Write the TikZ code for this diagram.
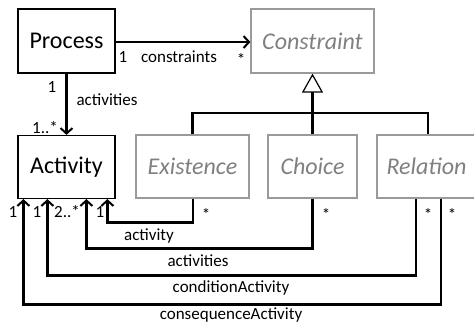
\documentclass[tikz,border=0pt]{standalone}
\usepackage{fontspec}
\setmainfont{Carlito}
\usetikzlibrary{arrows.meta}
\definecolor{absgray}{HTML}{808080}
\definecolor{absborder}{HTML}{9A9A9A}
\begin{document}
\begin{tikzpicture}[x=1pt,y=-1pt,
  classbox/.style={draw=black,line width=1.2pt,fill=white,inner sep=0pt,
    font=\fontsize{24}{28}\selectfont},
  abstractbox/.style={draw=absborder,line width=1.2pt,fill=white,inner sep=0pt,
    text=absgray,font=\fontsize{24}{28}\selectfont\itshape},
  assoc/.style={line width=2.4pt,-{Straight Barb[length=5.5pt,width=12pt,line width=2pt]}},
  link/.style={line width=2.4pt},
  gen/.style={line width=2.4pt,-{Triangle[open,length=19pt,width=21pt,line width=1.2pt]}},
  lbl/.style={font=\fontsize{17}{20}\selectfont,inner sep=0pt},
  mult/.style={font=\fontsize{17}{20}\selectfont,inner sep=0pt}]
\useasboundingbox (0,0) rectangle (474,327);

% classes
\node[classbox,minimum width=97pt,minimum height=64pt] (process) at (66.5,41) {Process};
\node[classbox,minimum width=97pt,minimum height=63pt] (activity) at (66.5,167) {Activity};
\node[abstractbox,minimum width=123pt,minimum height=64pt] (constraint) at (312.5,41) {Constraint};
\node[abstractbox,minimum width=113pt,minimum height=63pt] (existence) at (192.5,166.5) {Existence};
\node[abstractbox,minimum width=89pt,minimum height=63pt] (choice) at (312.5,166.5) {Choice};
\node[abstractbox,minimum width=99pt,minimum height=63pt] (relation) at (426.5,166.5) {Relation};

% generalization
\coordinate (junction) at (312.5,113);
\draw[link] (existence.north) |- (junction) -| ([xshift=1.5pt]relation.north);
\draw[gen] (choice.north) -- (junction) -- (constraint.south);

% Process associations
\draw[assoc] (process.east |- 0,42) -- (constraint.west |- 0,42);
\node[mult] (pc1) at (123,57) {1};
\node[lbl] (pclbl) at (179,57) {constraints};
\node[mult] (pcstar) at (241,59) {*};
\draw[assoc] (process.south) -- (activity.north);
\node[mult] (pa1) at (52,87) {1};
\node[lbl] (palbl) at (107,100) {activities};
\node[mult] (pamany) at (45,128) {1..*};

% associations towards Activity
\draw[assoc] ([xshift=14.5pt]relation.south) -- ++(0,106) -| ([xshift=6pt]activity.south west);
\draw[assoc] ([xshift=-10.5pt]relation.south) -- ++(0,77) -| ([xshift=30pt]activity.south west);
\draw[assoc] (choice.south) -- ++(0,50) -| ([xshift=69pt]activity.south west);
\draw[assoc] ([xshift=0.5pt]existence.south) -- ++(0,24) -| ([xshift=90pt]activity.south west);

\node[lbl] (seqlbl) at (231,315) {consequenceActivity};
\node[lbl] (condlbl) at (231,288) {conditionActivity};
\node[lbl] (chlbl) at (198,261) {activities};
\node[lbl] (exlbl) at (149,236) {activity};

\node[mult] (m1) at (13,212) {1};
\node[mult] (m2) at (37,212) {1};
\node[mult] (m3) at (67,212) {2..*};
\node[mult] (m4) at (100,212) {1};
\node[mult] (s1) at (206,214) {*};
\node[mult] (s2) at (326,214) {*};
\node[mult] (s3) at (428,214) {*};
\node[mult] (s4) at (452,214) {*};
\end{tikzpicture}
\end{document}
